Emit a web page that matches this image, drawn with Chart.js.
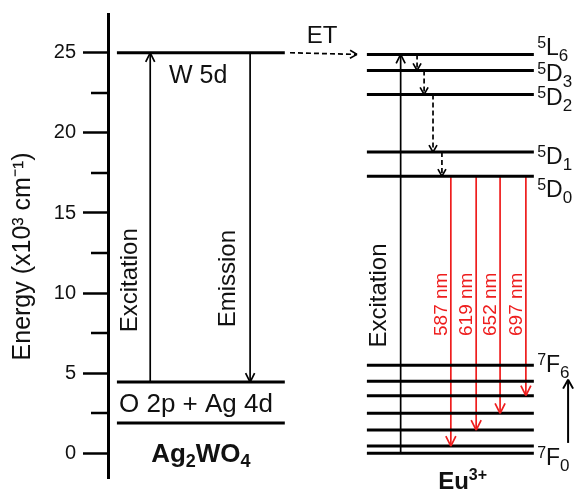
<!DOCTYPE html>
<html>
<head>
<meta charset="utf-8">
<script src="https://cdn.jsdelivr.net/npm/chart.js@4"></script>
<style>
  html, body { margin: 0; padding: 0; background: #fff; }
</style>
</head>
<body>
<canvas id="levels-chart" width="577" height="494"></canvas>
<script>
const FONT = '"Liberation Sans", Arial, Helvetica, sans-serif';

// energy axis (x10^3 cm^-1)
const yTicks = [0, 5, 10, 15, 20, 25];
const yMinorTicks = [2.5, 7.5, 12.5, 17.5, 22.5];

// Ag2WO4: W 5d, then top and bottom of the O 2p + Ag 4d band
const hostLevels = [25.0, 4.45, 1.9];

// Eu3+ levels
const euExcitedTerms = [['5', 'L', '6'], ['5', 'D', '3'], ['5', 'D', '2'], ['5', 'D', '1'], ['5', 'D', '0']];
const euExcitedEnergy = [24.9, 23.9, 22.4, 18.8, 17.3];
const euGroundTerms = [['7', 'F', '6'], null, null, null, null, null, ['7', 'F', '0']];
const euGroundEnergy = [5.5, 4.5, 3.6, 2.5, 1.45, 0.45, 0];   // 7F6 ... 7F0

// 5D0 -> 7FJ emissions
const emissionNm = [587, 619, 652, 697];
const emissionFinalJ = [1, 2, 3, 4];

// horizontal layout, x runs 0..100 across the plot
const HOST_SPAN = [1.9, 37.7];
const EU_SPAN = [55.2, 90.8];
const HOST_EXC_X = 9.0, HOST_EMI_X = 30.3;
const ET_SPAN = [38.8, 53.1];
const EU_EXC_X = 62.4;
const RELAX_X = [65.9, 67.4, 69.3, 71.2];
const EMIT_X = [73.1, 78.5, 83.6, 89.1];
const J_ARROW_X = 98.1;
const TERM_X = 91.5;
const RED = '#ee1d1d';

function seg(x1, y1, x2, y2, style) {
  return Object.assign({
    data: [{ x: x1, y: y1 }, { x: x2, y: y2 }],
    showLine: true, pointRadius: 0, borderColor: '#000', borderWidth: 3,
    clip: false, tension: 0
  }, style || {});
}

const thin = { borderWidth: 1.7, arrow: { len: 9, half: 4.5 } };
const dashed = { borderWidth: 1.7, borderDash: [5, 3], arrow: { len: 7, half: 4 } };

const datasets = [];
hostLevels.forEach(e => datasets.push(seg(HOST_SPAN[0], e, HOST_SPAN[1], e)));
euExcitedEnergy.forEach(e => datasets.push(seg(EU_SPAN[0], e, EU_SPAN[1], e)));
euGroundEnergy.forEach(e => datasets.push(seg(EU_SPAN[0], e, EU_SPAN[1], e)));

datasets.push(seg(HOST_EXC_X, hostLevels[1], HOST_EXC_X, hostLevels[0], thin));
datasets.push(seg(HOST_EMI_X, hostLevels[0], HOST_EMI_X, hostLevels[1], thin));
datasets.push(seg(ET_SPAN[0], hostLevels[0], ET_SPAN[1], euExcitedEnergy[0], dashed));
datasets.push(seg(EU_EXC_X, euGroundEnergy[6], EU_EXC_X, euExcitedEnergy[0], thin));
RELAX_X.forEach((x, i) => {
  datasets.push(seg(x, euExcitedEnergy[i], x, euExcitedEnergy[i + 1], dashed));
});
emissionNm.forEach((nm, i) => {
  const target = euGroundEnergy[6 - emissionFinalJ[i]];
  datasets.push(seg(EMIT_X[i], euExcitedEnergy[4], EMIT_X[i], target,
    { borderWidth: 1.7, borderColor: RED, arrow: { len: 10, half: 5 }, nm: nm }));
});
datasets.push(seg(J_ARROW_X, euGroundEnergy[5] + 0.2, J_ARROW_X, euGroundEnergy[1] + 0.1, { borderWidth: 2, arrow: { len: 9, half: 5 } }));

// open chevron heads at the last point of every arrow dataset
const arrowHeads = {
  id: 'arrowHeads',
  afterDatasetsDraw(chart) {
    const ctx = chart.ctx;
    chart.data.datasets.forEach((ds, i) => {
      if (!ds.arrow) return;
      const pts = chart.getDatasetMeta(i).data;
      const a = pts[pts.length - 2], b = pts[pts.length - 1];
      const ang = Math.atan2(b.y - a.y, b.x - a.x);
      const { len, half } = ds.arrow;
      ctx.save();
      ctx.strokeStyle = ds.borderColor;
      ctx.lineWidth = ds.borderWidth;
      ctx.setLineDash([]);
      ctx.beginPath();
      for (const s of [1, -1]) {
        ctx.moveTo(b.x, b.y);
        ctx.lineTo(b.x - len * Math.cos(ang) + s * half * Math.sin(ang),
                   b.y - len * Math.sin(ang) - s * half * Math.cos(ang));
      }
      ctx.stroke();
      ctx.restore();
    });
  }
};

// minor ticks between the labelled ones
const minorTicks = {
  id: 'minorTicks',
  afterDraw(chart) {
    const ctx = chart.ctx, y = chart.scales.y, left = chart.chartArea.left;
    ctx.save();
    ctx.strokeStyle = '#000';
    ctx.lineWidth = 2.5;
    ctx.beginPath();
    yMinorTicks.forEach(v => {
      const p = Math.round(y.getPixelForValue(v));
      ctx.moveTo(left - 17, p);
      ctx.lineTo(left, p);
    });
    ctx.stroke();
    ctx.restore();
  }
};

// text with optional superscript before and subscript/superscript after
function rich(ctx, x, y, parts) {
  let cx = x;
  parts.forEach(p => {
    ctx.font = (p.bold ? 'bold ' : '') + p.size + 'px ' + FONT;
    ctx.fillText(p.t, cx, y + (p.dy || 0));
    cx += ctx.measureText(p.t).width;
  });
}
function richWidth(ctx, parts) {
  return parts.reduce((w, p) => {
    ctx.font = (p.bold ? 'bold ' : '') + p.size + 'px ' + FONT;
    return w + ctx.measureText(p.t).width;
  }, 0);
}

const labels = {
  id: 'labels',
  afterDraw(chart) {
    const ctx = chart.ctx, sx = chart.scales.x, sy = chart.scales.y;
    const X = v => sx.getPixelForValue(v), Y = v => sy.getPixelForValue(v);
    ctx.save();
    ctx.fillStyle = '#111';
    ctx.textBaseline = 'alphabetic';
    ctx.textAlign = 'left';

    ctx.font = '25px ' + FONT;
    ctx.fillText('W 5d', X(13.0), Y(hostLevels[0]) + 30);
    ctx.font = '26px ' + FONT;
    ctx.fillText('O 2p + Ag 4d', X(2.35), Y(hostLevels[1]) + 30);
    ctx.font = '24px ' + FONT;
    ctx.fillText('ET', X(42.4), Y(hostLevels[0]) - 10);

    const host = [{ t: 'Ag', size: 26, bold: true }, { t: '2', size: 18, bold: true, dy: 5 },
                  { t: 'WO', size: 26, bold: true }, { t: '4', size: 18, bold: true, dy: 5 }];
    rich(ctx, (X(HOST_SPAN[0]) + X(HOST_SPAN[1])) / 2 - richWidth(ctx, host) / 2, Y(0) + 9, host);
    const eu = [{ t: 'Eu', size: 24, bold: true }, { t: '3+', size: 16, bold: true, dy: -9 }];
    rich(ctx, X(70.4), Y(0) + 36, eu);

    // term symbols
    const term = (t, y) => rich(ctx, X(TERM_X), y, [
      { t: t[0], size: 16, dy: -7 }, { t: t[1], size: 23 }, { t: t[2], size: 17, dy: 6 }]);
    const excOff = [1, 11, 11, 12, 21];
    euExcitedTerms.forEach((t, i) => term(t, Y(euExcitedEnergy[i]) + excOff[i]));
    term(euGroundTerms[0], Y(euGroundEnergy[0]) + 7);
    term(euGroundTerms[6], Y(euGroundEnergy[6]) + 12);

    // rotated captions
    const vtext = (txt, x, y, size, color) => {
      ctx.save();
      ctx.translate(x, y);
      ctx.rotate(-Math.PI / 2);
      ctx.font = size + 'px ' + FONT;
      ctx.fillStyle = color;
      ctx.textAlign = 'center';
      ctx.textBaseline = 'middle';
      ctx.fillText(txt, 0, 0);
      ctx.restore();
    };
    vtext('Excitation', X(HOST_EXC_X) - 20, Y(10.8), 24, '#111');
    vtext('Emission', X(HOST_EMI_X) - 22, Y(10.9), 24, '#111');
    vtext('Excitation', X(EU_EXC_X) - 21, Y(9.85), 24, '#111');
    emissionNm.forEach((nm, i) => vtext(nm + ' nm', X(EMIT_X[i]) - 9.5, Y(9.3), 19, RED));
    ctx.restore();
  }
};

new Chart(document.getElementById('levels-chart').getContext('2d'), {
  type: 'scatter',
  data: { datasets: datasets },
  options: {
    responsive: false,
    animation: false,
    layout: { padding: { top: 14, bottom: 16, left: 0, right: 0 } },
    plugins: { legend: { display: false }, tooltip: { enabled: false } },
    scales: {
      x: { type: 'linear', display: false, min: 0, max: 100 },
      y: {
        min: -1.54, max: 27.42,
        afterFit: s => { s.width = 108; },
        afterBuildTicks: s => { s.ticks = yTicks.map(v => ({ value: v })); },
        ticks: { font: { family: FONT, size: 20, lineHeight: 0.7 }, color: '#111', padding: 7 },
        grid: { drawOnChartArea: false, drawTicks: true, tickLength: 25, tickWidth: 2.5, tickColor: '#000' },
        border: { display: true, color: '#000', width: 3 },
        title: {
          display: true, text: 'Energy (x10³ cm⁻¹)\u00a0\u00a0\u00a0', color: '#111',
          font: { family: FONT, size: 25 }, padding: { top: 8, bottom: 0 }
        }
      }
    }
  },
  plugins: [arrowHeads, minorTicks, labels]
});
</script>
</body>
</html>
